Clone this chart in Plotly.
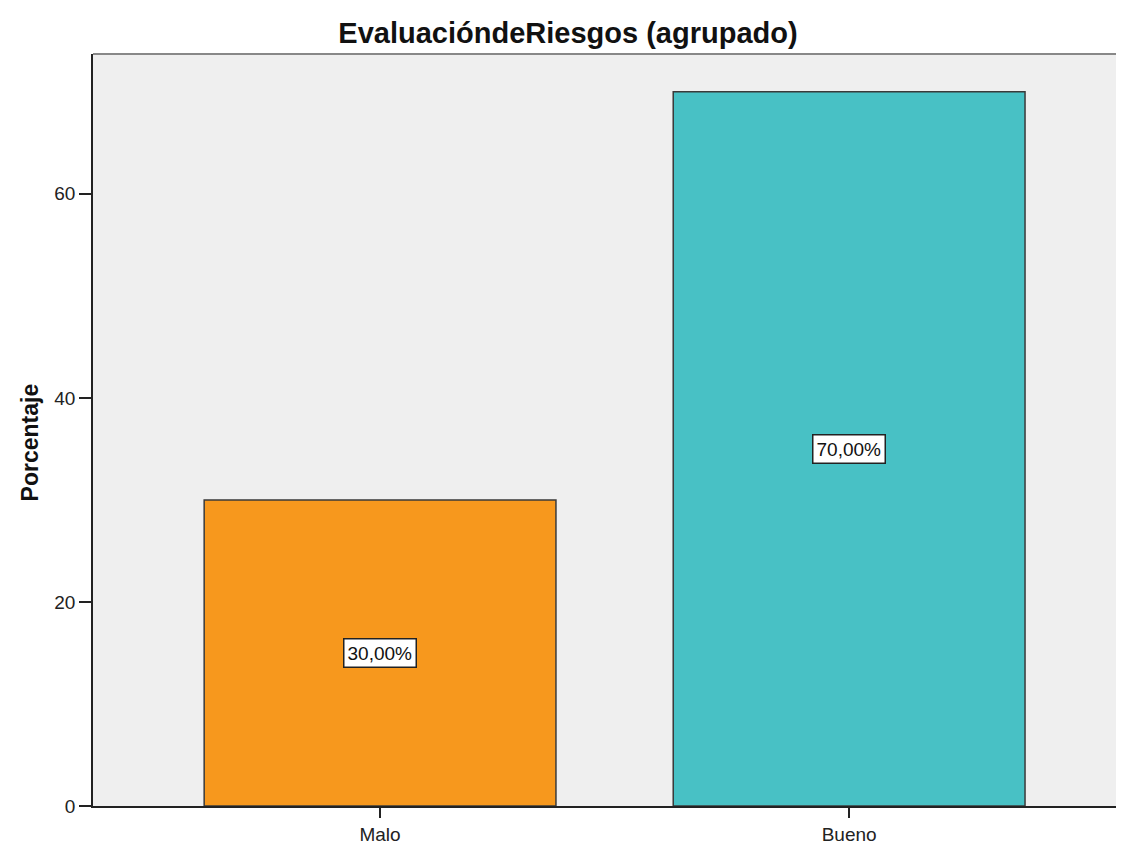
import plotly.graph_objects as go

categories = ["Malo", "Bueno"]
percentages = [30.0, 70.0]
labels = ["30,00%", "70,00%"]
bar_colors = ["#F7981D", "#48C1C5"]
y_ticks = [0, 20, 40, 60]

FONT = "Liberation Sans, Arial"

fig = go.Figure()
fig.add_trace(go.Bar(
    x=categories,
    y=percentages,
    width=0.75,
    marker=dict(color=bar_colors, line=dict(color="#3a3a3a", width=1.5)),
    hoverinfo="skip",
))

for c, v, t in zip(categories, percentages, labels):
    fig.add_annotation(
        x=c, y=v / 2, text=t, showarrow=False,
        font=dict(family=FONT, size=19, color="#111111"),
        bgcolor="white", bordercolor="#222222", borderwidth=1.5, borderpad=3,
    )

fig.add_annotation(
    xref="paper", yref="paper", x=0, y=0.4835, xshift=-63,
    text="<b>Porcentaje</b>", textangle=-90, showarrow=False,
    font=dict(family=FONT, size=23, color="#111111"),
    xanchor="center", yanchor="middle",
)

fig.add_shape(type="line", xref="paper", yref="paper", x0=0, x1=1, y0=1, y1=1,
              line=dict(color="#888888", width=2))

fig.update_layout(
    width=1116, height=837,
    margin=dict(l=85, r=0, t=46, b=34),
    paper_bgcolor="white",
    plot_bgcolor="#EFEFEF",
    showlegend=False,
    title=dict(
        text="<b>EvaluacióndeRiesgos (agrupado)</b>",
        xref="container", x=560 / 1116, xanchor="center",
        yref="container", y=1 - 25 / 837, yanchor="middle",
        font=dict(family=FONT, size=29, color="#111111"),
    ),
    xaxis=dict(
        type="category", range=[-0.612, 1.586],
        showline=True, linecolor="#222222", linewidth=1.5,
        ticks="outside", ticklen=10, tickcolor="#222222", tickwidth=1.5,
        tickfont=dict(family=FONT, size=19, color="#222222"),
        showgrid=False, zeroline=False, fixedrange=True,
    ),
    yaxis=dict(
        range=[0, 73.7], tickvals=y_ticks,
        showline=True, linecolor="#222222", linewidth=1.5,
        ticks="outside", ticklen=12, tickcolor="#222222", tickwidth=1.5,
        tickfont=dict(family=FONT, size=19, color="#222222"),
        showgrid=False, zeroline=False, fixedrange=True,
    ),
)

fig.write_html("out.html")
